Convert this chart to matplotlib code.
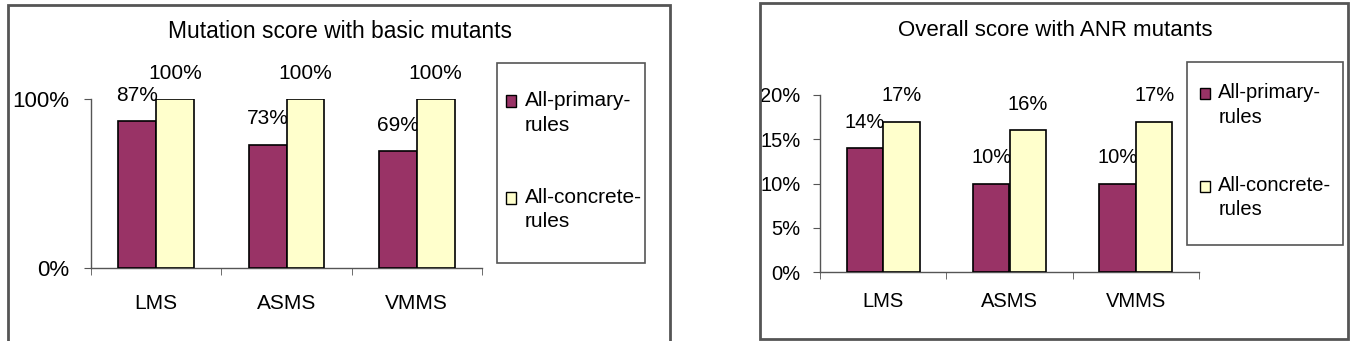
import matplotlib.pyplot as plt
from matplotlib.patches import Rectangle, Patch
from matplotlib.legend_handler import HandlerPatch

plt.rcParams['font.family'] = ['Liberation Sans', 'DejaVu Sans']

categories = ['LMS', 'ASMS', 'VMMS']
series_names = ['All-primary-\nrules', 'All-concrete-\nrules']
basic_primary = [87, 73, 69]
basic_concrete = [100, 100, 100]
anr_primary = [14, 10, 10]
anr_concrete = [17, 16, 17]

colors = ['#993366', '#FFFFCC']
W, H = 1364, 341


def fx(x):
    return x / W


def fy(y):
    return 1 - y / H


def first_line_square(legend, orig_handle, xdescent, ydescent, width, height,
                      fontsize):
    # put the square next to the first line of a two-line label
    return Rectangle((-xdescent, -ydescent + 8.4), width, height)


def panel(fig, rect, title, title_xy, title_fs, primary, concrete, ymax,
          yticks, legend_rect, legend_anchor, labelspacing, fs, yfs, xpad,
          ypad):
    ax = fig.add_axes(rect)
    bw = 0.29
    x = range(len(categories))
    for i, (vals, col) in enumerate(zip([primary, concrete], colors)):
        pos = [k + (i - 0.5) * bw for k in x]
        bars = ax.bar(pos, vals, width=bw, color=col, edgecolor='black',
                      linewidth=1.2, label=series_names[i], zorder=3)
        for b, v in zip(bars, vals):
            ax.annotate(f'{v}%', (b.get_x() + b.get_width() / 2, v),
                        xytext=(0, 18.5), textcoords='offset points',
                        ha='center', va='center', fontsize=fs)
    ax.set_xlim(-0.5, len(categories) - 0.5)
    ax.set_ylim(0, ymax)
    ax.set_yticks(yticks)
    ax.set_yticklabels([f'{t}%' for t in yticks], fontsize=yfs)
    ax.set_xticks(list(x))
    ax.set_xticklabels(categories, fontsize=fs)
    ax.set_xticks([k - 0.5 for k in range(len(categories) + 1)], minor=True)
    ax.tick_params(axis='x', which='major', length=0, pad=xpad)
    ax.tick_params(axis='x', which='minor', length=5, direction='out',
                   color='#555555')
    ax.tick_params(axis='y', length=5, direction='out', pad=ypad,
                   color='#555555')
    for s in ['top', 'right']:
        ax.spines[s].set_visible(False)
    for s in ['left', 'bottom']:
        ax.spines[s].set_color('#555555')
        ax.spines[s].set_linewidth(1.0)
    ax.set_facecolor('none')

    fig.text(fx(title_xy[0]), fy(title_xy[1]), title, ha='center',
             va='center', fontsize=title_fs)

    # legend frame and entries
    lx0, ly0, lx1, ly1 = legend_rect
    fig.patches.append(Rectangle((fx(lx0), fy(ly1)), fx(lx1) - fx(lx0),
                                 fy(ly0) - fy(ly1), transform=fig.transFigure,
                                 fill=False, edgecolor='#555555', lw=1.2))
    handles = [Patch(facecolor=c, edgecolor='black', lw=1.0) for c in colors]
    leg = fig.legend(handles, series_names, loc='upper left',
                     bbox_to_anchor=(fx(legend_anchor[0]),
                                     fy(legend_anchor[1])),
                     frameon=False, fontsize=fs, handlelength=0.5,
                     handleheight=0.5, handletextpad=0.4,
                     labelspacing=labelspacing, borderpad=0, borderaxespad=0,
                     handler_map={Patch: HandlerPatch(
                         patch_func=first_line_square)})
    for t in leg.get_texts():
        t.set_linespacing(1.37)
    return ax


fig = plt.figure(figsize=(W / 100, H / 100), dpi=100)

# panel borders
fig.patches.append(Rectangle((fx(8), fy(345)), fx(670) - fx(8), fy(5) - fy(345),
                             transform=fig.transFigure, fill=False,
                             edgecolor='#555555', lw=2))
fig.patches.append(Rectangle((fx(760), fy(339)), fx(1348) - fx(760),
                             fy(3) - fy(339), transform=fig.transFigure,
                             fill=False, edgecolor='#555555', lw=2))

panel(fig, [fx(91), fy(268), (482 - 91) / W, 169 / H],
      'Mutation score with basic mutants', (340, 31), 16.4,
      basic_primary, basic_concrete, 100, [0, 100],
      (497, 63, 645, 263), (506, 91), 2.55, 15, 16, 18.5, 11)

panel(fig, [fx(820), fy(272), (1199 - 820) / W, 177 / H],
      'Overall score with ANR mutants', (1055, 30), 16,
      anr_primary, anr_concrete, 20, [0, 5, 10, 15, 20],
      (1187, 62, 1343, 245), (1200, 83), 2.45, 14.5, 14.5, 14.5, 9)

fig.savefig('out.png', dpi=100)
